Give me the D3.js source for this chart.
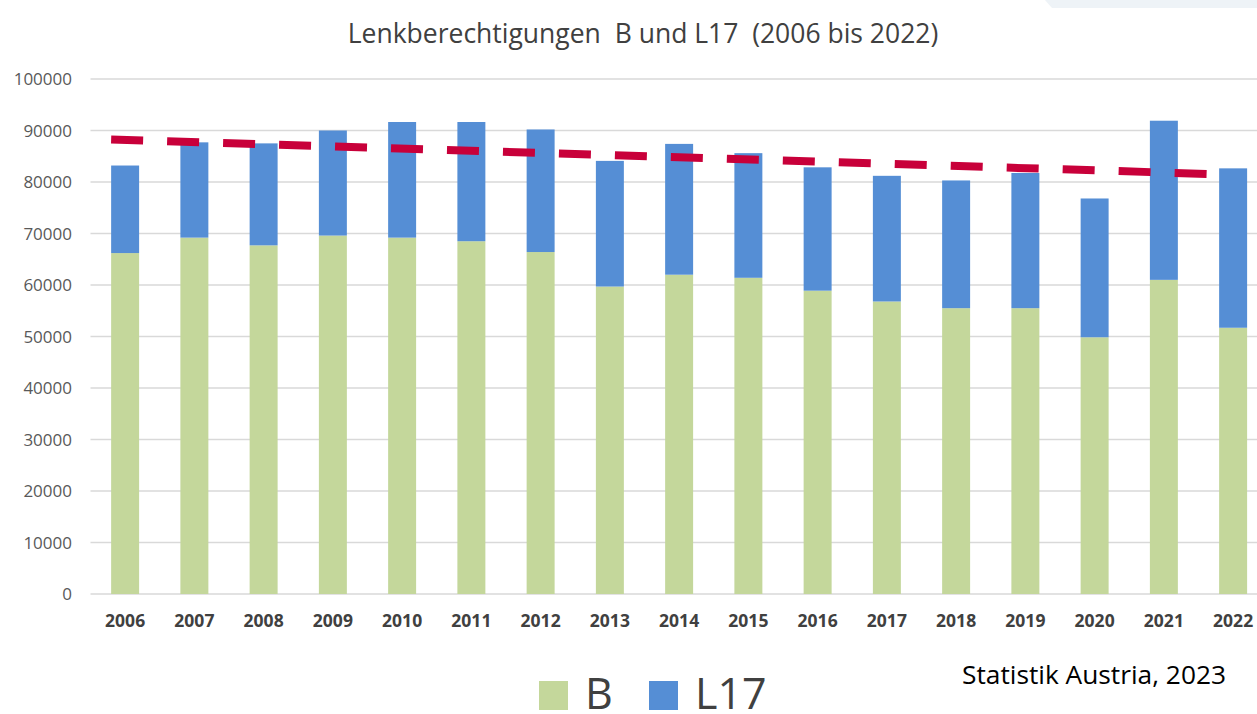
<!DOCTYPE html>
<html>
<head>
<meta charset="utf-8">
<script src="https://cdn.jsdelivr.net/npm/d3@7"></script>
<style>
  body { margin: 0; background: #fff; }
  text { font-family: "Open Sans", "Noto Sans", sans-serif; }
</style>
</head>
<body>
<svg id="chart"></svg>
<script>
var width = 1257,
    height = 714;

// data
var years = ["2006", "2007", "2008", "2009", "2010", "2011", "2012", "2013", "2014",
             "2015", "2016", "2017", "2018", "2019", "2020", "2021", "2022"];
var valuesB = [66200, 69200, 67700, 69600, 69200, 68500, 66400, 59700, 62000,
               61400, 58900, 56800, 55500, 55500, 49850, 61000, 51700];
var valuesL17 = [17000, 18500, 19800, 20400, 22450, 23150, 23800, 24400, 25400,
                 24200, 23950, 24400, 24800, 26250, 26950, 30900, 30950];
// trend line (linear), value at first and last year
var trendYears = ["2006", "2022"];
var trendValues = [88250, 81500];
var yTicks = [0, 10000, 20000, 30000, 40000, 50000, 60000, 70000, 80000, 90000, 100000];

var colors = {B: "#c4d79b", L17: "#558ed5"};

var svg = d3.select("#chart")
    .attr("width", width)
    .attr("height", height);

// faint band in the top right corner
svg.append("polygon")
  .attr("points", "1045,0 1257,0 1257,8 1052,8")
  .attr("fill", "#eef3f7");

var x = d3.scaleBand()
  .domain(years)
  .range([90.5, 1267.75])
  .paddingInner(0.596)
  .paddingOuter(0.298);

var y = d3.scaleLinear()
  .domain([0, 100000])
  .range([594, 79]);

// grid lines
svg.append("g")
  .selectAll("line")
  .data(yTicks)
  .join("line")
  .attr("x1", 90.5)
  .attr("x2", width)
  .attr("y1", function(d) { return y(d); })
  .attr("y2", function(d) { return y(d); })
  .attr("stroke", "#d9d9d9")
  .attr("stroke-width", 1.5);

// y axis labels
svg.append("g")
  .selectAll("text")
  .data(yTicks)
  .join("text")
  .attr("x", 72)
  .attr("y", function(d) { return y(d); })
  .attr("dy", "0.36em")
  .attr("text-anchor", "end")
  .style("font-size", "17px")
  .attr("fill", "#595959")
  .text(function(d) { return d; });

// stacked bars
var table = years.map(function(yr, i) {
  return {year: yr, B: valuesB[i], L17: valuesL17[i]};
});
var stacked = d3.stack().keys(["B", "L17"])(table);

svg.append("g")
  .selectAll("g")
  .data(stacked)
  .join("g")
  .attr("fill", function(d) { return colors[d.key]; })
  .selectAll("rect")
  .data(function(d) { return d; })
  .join("rect")
  .attr("x", function(d) { return x(d.data.year); })
  .attr("y", function(d) { return y(d[1]); })
  .attr("width", x.bandwidth())
  .attr("height", function(d) { return y(d[0]) - y(d[1]); });

// x axis labels
svg.append("g")
  .selectAll("text")
  .data(years)
  .join("text")
  .attr("x", function(d) { return x(d) + x.bandwidth() / 2; })
  .attr("y", 627)
  .attr("text-anchor", "middle")
  .style("font-size", "17.5px")
  .style("font-weight", "bold")
  .attr("fill", "#404040")
  .text(function(d) { return d; });

// dashed trend line
var line = d3.line()
  .x(function(d) { return x(d[0]); })
  .y(function(d) { return y(d[1]); });

svg.append("path")
  .datum(trendYears.map(function(yr, i) { return [yr, trendValues[i]]; }))
  .attr("d", line)
  .attr("fill", "none")
  .attr("stroke", "#c8003a")
  .attr("stroke-width", 8)
  .attr("stroke-dasharray", "32,24");

// title
svg.append("text")
  .attr("x", 643)
  .attr("y", 43)
  .attr("text-anchor", "middle")
  .style("font-size", "26.5px")
  .attr("fill", "#404040")
  .attr("xml:space", "preserve")
  .text("Lenkberechtigungen  B und L17  (2006 bis 2022)");

// legend
var legendItems = [
  {key: "B", sx: 539, tx: 585},
  {key: "L17", sx: 649, tx: 695}
];
var legend = svg.append("g");
legend.selectAll("rect")
  .data(legendItems)
  .join("rect")
  .attr("x", function(d) { return d.sx; })
  .attr("y", 681)
  .attr("width", 29)
  .attr("height", 29)
  .attr("fill", function(d) { return colors[d.key]; });
legend.selectAll("text")
  .data(legendItems)
  .join("text")
  .attr("x", function(d) { return d.tx; })
  .attr("y", 709)
  .style("font-size", "43px")
  .attr("fill", "#404040")
  .text(function(d) { return d.key; });

// source
svg.append("text")
  .attr("x", 962)
  .attr("y", 684)
  .attr("textLength", 264)
  .attr("lengthAdjust", "spacingAndGlyphs")
  .style("font-size", "25px")
  .attr("fill", "#000")
  .text("Statistik Austria, 2023");
</script>
</body>
</html>
